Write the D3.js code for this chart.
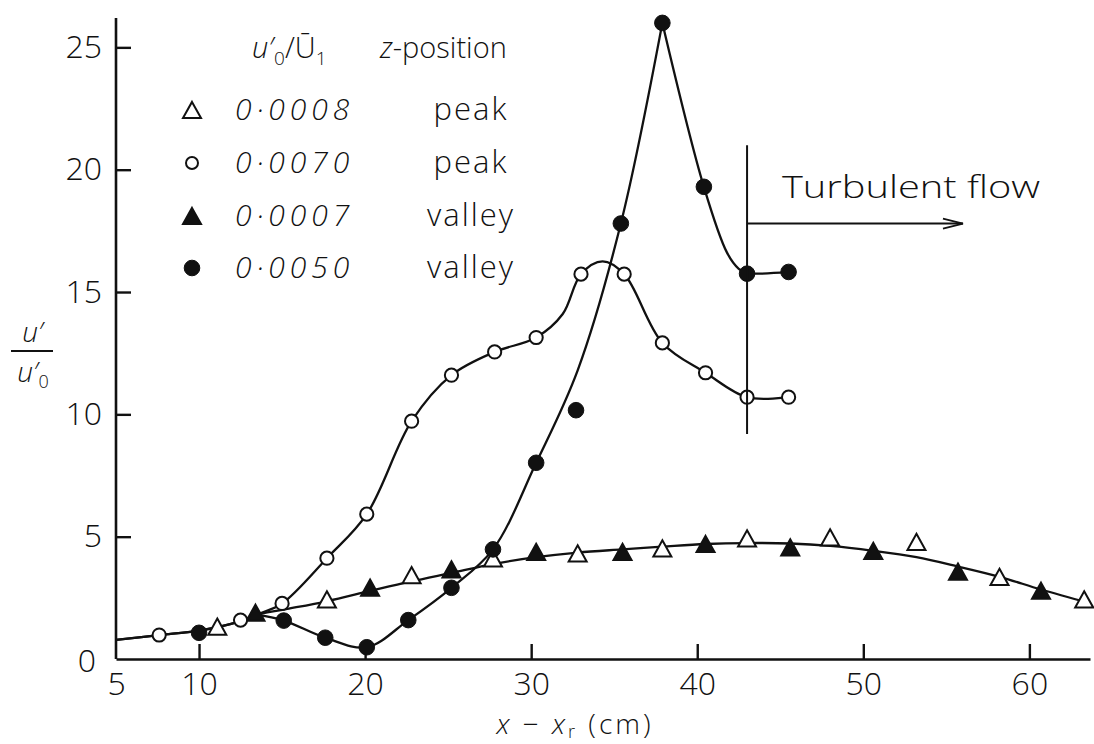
<!DOCTYPE html>
<html><head><meta charset="utf-8">
<script src="https://cdn.jsdelivr.net/npm/d3@7"></script>
<style>
html,body{margin:0;padding:0;background:#fff;}
svg{display:block;}
text{font-family:"Open Sans","DejaVu Sans",sans-serif;font-weight:300;fill:#111;}
</style></head><body>
<svg id="chart" width="1094" height="744"></svg>
<script>
// ---------- data ----------
const xTickValues = [5, 10, 20, 30, 40, 50, 60];
const yTickValues = [0, 5, 10, 15, 20, 25];

// 0.0008 peak (open triangles)
const openTriX = [11.1, 17.7, 22.8, 27.7, 32.8, 37.9, 43.0, 48.0, 53.2, 58.2, 63.3];
const openTriY = [1.32, 2.44, 3.43, 4.11, 4.32, 4.52, 4.93, 4.97, 4.79, 3.36, 2.44];
// 0.0070 peak (open circles)
const openCircX = [7.6, 12.5, 15.0, 17.7, 20.1, 22.8, 25.2, 27.8, 30.3, 33.0, 35.6, 37.9, 40.5, 43.0, 45.5];
const openCircY = [0.98, 1.59, 2.27, 4.12, 5.92, 9.72, 11.6, 12.55, 13.14, 15.73, 15.73, 12.92, 11.7, 10.7, 10.7];
// 0.0007 valley (filled triangles)
const fillTriX = [13.4, 20.3, 25.2, 30.3, 35.5, 40.5, 45.6, 50.6, 55.7, 60.7];
const fillTriY = [1.89, 2.92, 3.66, 4.38, 4.38, 4.70, 4.56, 4.42, 3.57, 2.79];
// 0.0050 valley (filled circles)
const fillCircX = [10.0, 15.1, 17.6, 20.1, 22.6, 25.2, 27.7, 30.3, 32.7, 35.4, 37.9, 40.4, 43.0, 45.5];
const fillCircY = [1.07, 1.57, 0.87, 0.48, 1.59, 2.91, 4.48, 8.02, 10.17, 17.8, 26.0, 19.3, 15.75, 15.82];

// hand-drawn fitted curves
const triCurveX = [5, 7.6, 10, 12.5, 13.4, 15.1, 17.7, 20.3, 22.7, 25.2, 27.7, 30.3, 32.8, 35.5, 37.9, 40.5, 43.0, 45.6, 48.0, 50.6, 53.2, 55.7, 58.2, 60.7, 63.65];
const triCurveY = [0.78, 0.98, 1.16, 1.55, 1.8, 2.02, 2.36, 2.78, 3.16, 3.52, 3.88, 4.16, 4.35, 4.48, 4.59, 4.7, 4.74, 4.72, 4.62, 4.42, 4.16, 3.78, 3.36, 2.84, 2.28];
const openCurveX = [5, 7.6, 10, 12.5, 13.6, 15.0, 17.7, 20.1, 22.8, 25.2, 27.8, 30.3, 31.9, 33.0, 34.3, 35.6, 37.9, 40.5, 43.0, 45.5];
const openCurveY = [0.78, 0.98, 1.16, 1.55, 1.85, 2.27, 4.12, 5.92, 9.72, 11.6, 12.55, 13.14, 14.1, 15.73, 16.25, 15.73, 12.92, 11.7, 10.7, 10.7];
const fillRiseX = [13.4, 15.1, 17.6, 20.1, 22.6, 25.2, 27.7, 30.3, 32.8, 35.4, 37.9];
const fillRiseY = [1.82, 1.57, 0.87, 0.48, 1.59, 2.91, 4.48, 8.02, 11.8, 17.8, 26.0];
const fillFallX = [37.9, 40.4, 41.8, 42.5, 43.0, 45.5];
const fillFallY = [26.0, 19.3, 16.6, 15.95, 15.78, 15.82];

// turbulent-flow annotation (data space)
const turbX = 43.0;
const turbSpan = [9.2, 21.0];
const arrowY = 17.8;
const arrowEndX = 56.0;

// legend
const legendValues = ["0·0008", "0·0070", "0·0007", "0·0050"];
const legendPositions = ["peak", "peak", "valley", "valley"];
const legendSymbols = ["openTri", "openCirc", "fillTri", "fillCirc"];

// ---------- drawing ----------
const svg = d3.select("#chart");
const x = d3.scaleLinear().domain([5, 63.65]).range([116, 1090]);
const y = d3.scaleLinear().domain([0, 26.2]).range([659, 18]);
const ink = "#111";

// axes
const gx = svg.append("g").attr("transform", "translate(0,659)")
  .call(d3.axisBottom(x).tickValues(xTickValues).tickSize(-15).tickSizeOuter(0).tickPadding(13).tickFormat(d3.format("d")));
gx.selectAll(".tick").filter(d => d === 5).select("line").remove();
const gy = svg.append("g").attr("transform", "translate(116,0)")
  .call(d3.axisLeft(y).tickValues(yTickValues).tickSize(-15).tickSizeOuter(0).tickPadding(14).tickFormat(d3.format("d")));
gy.selectAll(".tick").filter(d => d === 0).select("line").remove();
gy.selectAll(".tick").filter(d => d === 0).select("text").attr("x", -20).attr("dy", "0.4em");
[gx, gy].forEach(g => {
  g.select(".domain").attr("stroke", ink).attr("stroke-width", 2.6);
  g.selectAll(".tick line").attr("stroke", ink).attr("stroke-width", 2.4);
  g.selectAll(".tick text").style("font-size", "32px").attr("fill", ink)
    .style("font-family", '"Open Sans","DejaVu Sans",sans-serif').style("font-weight", 300);
});
// y-axis domain extends to top
gy.select(".domain").attr("d", `M0,${y(0)}V18`);

// curves
const line = d3.line().x(d => x(d[0])).y(d => y(d[1])).curve(d3.curveCatmullRom.alpha(0.5));
const zipXY = (a, b) => a.map((v, i) => [v, b[i]]);
[[triCurveX, triCurveY], [openCurveX, openCurveY], [fillRiseX, fillRiseY], [fillFallX, fillFallY]]
  .forEach(([a, b]) => {
    svg.append("path").datum(zipXY(a, b)).attr("d", line)
      .attr("fill", "none").attr("stroke", ink).attr("stroke-width", 2.3).attr("stroke-linejoin", "round");
  });

// markers
const triType = { draw(ctx, size) { const s = Math.sqrt(size); ctx.moveTo(0, -s * 0.45); ctx.lineTo(s / 2, s * 0.45); ctx.lineTo(-s / 2, s * 0.45); ctx.closePath(); } };
const triPath = d3.symbol().type(triType).size(18 * 18)();
function drawMarkers(kind, xs, ys, g) {
  const pts = zipXY(xs, ys);
  const sel = g.selectAll(null).data(pts);
  if (kind === "openTri" || kind === "fillTri") {
    sel.enter().append("path").attr("d", triPath)
      .attr("transform", d => `translate(${x(d[0])},${y(d[1])})`)
      .attr("fill", kind === "openTri" ? "#fff" : ink).attr("stroke", ink).attr("stroke-width", 2).attr("stroke-linejoin", "miter");
  } else {
    sel.enter().append("circle").attr("cx", d => x(d[0])).attr("cy", d => y(d[1]))
      .attr("r", kind === "openCirc" ? 6.6 : 7.8)
      .attr("fill", kind === "openCirc" ? "#fff" : ink).attr("stroke", ink).attr("stroke-width", kind === "openCirc" ? 2 : 1);
  }
}
const gm = svg.append("g");
drawMarkers("openTri", openTriX, openTriY, gm);
drawMarkers("fillTri", fillTriX, fillTriY, gm);
drawMarkers("openCirc", openCircX, openCircY, gm);
drawMarkers("fillCirc", fillCircX, fillCircY, gm);

// turbulent flow annotation
svg.append("line").attr("x1", x(turbX)).attr("x2", x(turbX)).attr("y1", y(turbSpan[0])).attr("y2", y(turbSpan[1]))
  .attr("stroke", ink).attr("stroke-width", 2);
svg.append("line").attr("x1", x(turbX)).attr("x2", x(arrowEndX)).attr("y1", y(arrowY)).attr("y2", y(arrowY))
  .attr("stroke", ink).attr("stroke-width", 1.8);
svg.append("path").attr("d", `M${x(arrowEndX) - 20},${y(arrowY) - 5}L${x(arrowEndX)},${y(arrowY)}L${x(arrowEndX) - 20},${y(arrowY) + 5}`)
  .attr("fill", "none").attr("stroke", ink).attr("stroke-width", 1.8);
svg.append("text").attr("x", 782).attr("y", 198).style("font-size", "31px")
  .attr("textLength", 258).attr("lengthAdjust", "spacingAndGlyphs").text("Turbulent flow");

// legend
const lg = svg.append("g");
const hdr = lg.append("text").attr("x", 252).attr("y", 58).style("font-size", "29px");
hdr.append("tspan").style("font-style", "italic").text("u′");
hdr.append("tspan").attr("dy", 7).style("font-size", "19px").text("0");
hdr.append("tspan").attr("dy", -7).style("font-size", "29px").text("/Ū");
hdr.append("tspan").attr("dy", 7).style("font-size", "19px").text("1");
const hdr2 = lg.append("text").attr("x", 380).attr("y", 58).style("font-size", "29px");
hdr2.append("tspan").style("font-style", "italic").text("z");
hdr2.append("tspan").text("-position");

const rowY = [110, 163, 216, 268];
legendSymbols.forEach((s, i) => {
  const cy = rowY[i];
  if (s === "openTri" || s === "fillTri") {
    lg.append("path").attr("d", triPath).attr("transform", `translate(192,${cy})`)
      .attr("fill", s === "openTri" ? "#fff" : ink).attr("stroke", ink).attr("stroke-width", 2);
  } else {
    lg.append("circle").attr("cx", 192).attr("cy", cy).attr("r", s === "openCirc" ? 6 : 7.8)
      .attr("fill", s === "openCirc" ? "#fff" : ink).attr("stroke", ink).attr("stroke-width", s === "openCirc" ? 2 : 1);
  }
  lg.append("text").attr("x", 235).attr("y", cy + 10).style("font-size", "30px").style("font-style", "italic")
    .style("letter-spacing", "5px").text(legendValues[i]);
  lg.append("text").attr("x", 471).attr("y", cy + 10).attr("text-anchor", "middle").style("font-size", "31px")
    .style("letter-spacing", "2px").text(legendPositions[i]);
});

// axis titles
const xt = svg.append("text").attr("x", 575).attr("y", 734).attr("text-anchor", "middle").style("font-size", "28px")
  .style("letter-spacing", "3px");
xt.append("tspan").style("font-style", "italic").text("x");
xt.append("tspan").text(" − ");
xt.append("tspan").style("font-style", "italic").text("x");
xt.append("tspan").attr("dy", 4).style("font-size", "18px").text("r");
xt.append("tspan").attr("dy", -4).style("font-size", "28px").text(" (cm)");

const yt = svg.append("g");
const num = yt.append("text").attr("x", 33).attr("y", 342).attr("text-anchor", "middle").style("font-size", "28px");
num.append("tspan").style("font-style", "italic").text("u′");
yt.append("line").attr("x1", 11).attr("x2", 53).attr("y1", 351).attr("y2", 351).attr("stroke", ink).attr("stroke-width", 2);
const den = yt.append("text").attr("x", 33).attr("y", 382).attr("text-anchor", "middle").style("font-size", "28px");
den.append("tspan").style("font-style", "italic").text("u′");
den.append("tspan").attr("dy", 6).style("font-size", "18px").text("0");
</script>
</body></html>
